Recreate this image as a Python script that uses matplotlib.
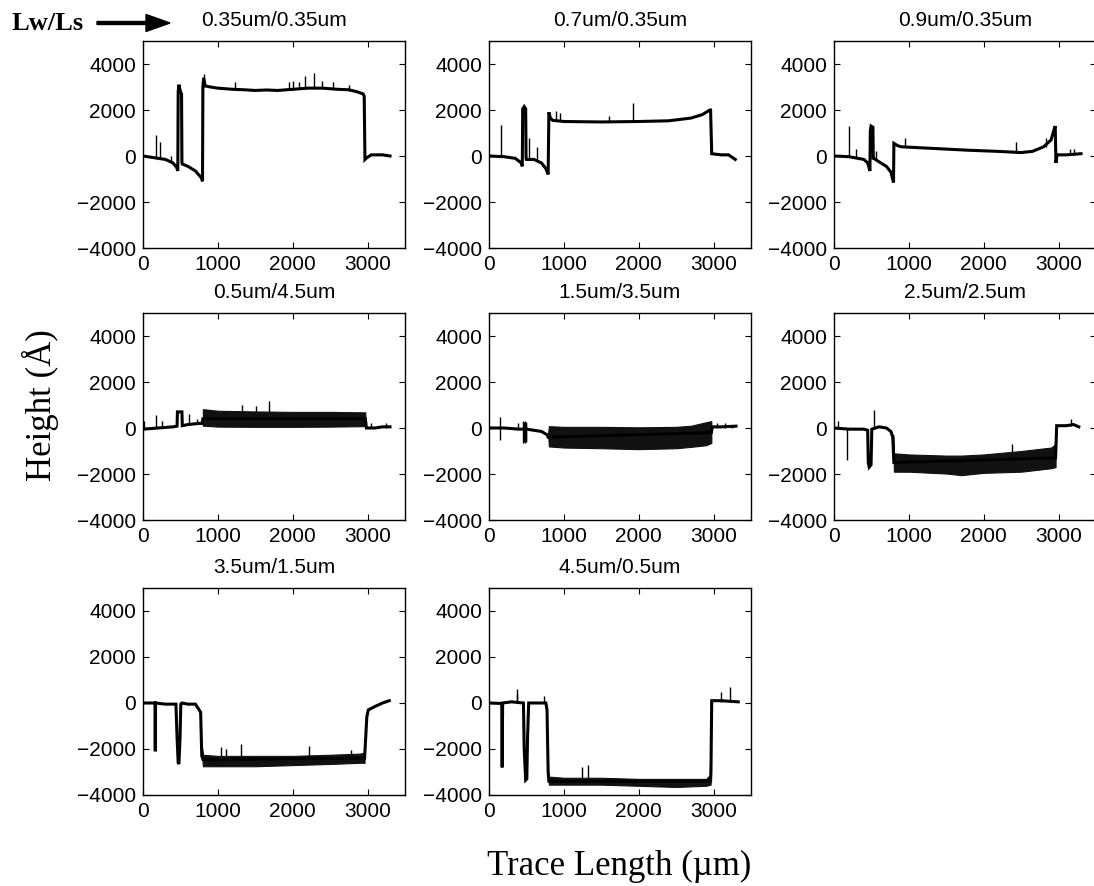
import matplotlib
matplotlib.use("Agg")
import matplotlib.pyplot as plt

# ---------------- data ----------------
titles = ["0.35um/0.35um", "0.7um/0.35um", "0.9um/0.35um",
          "0.5um/4.5um", "1.5um/3.5um", "2.5um/2.5um",
          "3.5um/1.5um", "4.5um/0.5um"]
x_ticks = [0, 1000, 2000, 3000]
y_ticks = [-4000, -2000, 0, 2000, 4000]

# panel 1 : 0.35/0.35
p1_x = [0, 100, 200, 300, 400, 450, 465, 470, 480, 500, 515, 520, 525, 600, 700, 780, 795,
        800, 810, 830, 900, 1000, 1200, 1350, 1500, 1650, 1800, 2000, 2200, 2400, 2600, 2750,
        2850, 2940, 2955, 2965, 2980, 3050, 3200, 3300]
p1_y = [0, -50, -100, -150, -300, -500, -650, 2800, 3100, 2800, 2700, -300, -350, -450, -650, -950, -1100,
        3000, 3400, 3050, 3000, 2950, 2900, 2880, 2850, 2870, 2850, 2900, 2950, 2950, 2900, 2880,
        2800, 2700, 2600, -150, -100, 50, 50, 0]
p1_sx = [180, 230, 370, 810, 1230, 1950, 2000, 2080, 2170, 2280, 2390, 2535, 2750]
p1_slo = [-80, -100, -200, 3000, 2880, 2850, 2850, 2900, 2920, 2950, 2950, 2930, 2820]
p1_shi = [900, 600, 0, 3550, 3200, 3200, 3250, 3200, 3500, 3600, 3250, 3200, 3100]
p1_bx, p1_blo, p1_bhi = [], [], []

# panel 2 : 0.7/0.35
p2_x = [0, 200, 350, 430, 445, 450, 470, 490, 495, 500, 600, 700, 760, 790, 800, 820, 850,
        1000, 1500, 2000, 2400, 2700, 2850, 2950, 2960, 2975, 3100, 3200, 3290]
p2_y = [0, -30, -100, -300, -450, 2050, 2150, 2050, -100, -150, -150, -300, -550, -800, 1900, 1650, 1550,
        1500, 1480, 1500, 1530, 1650, 1800, 2000, 2000, 100, 50, 50, -150]
p2_sx = [165, 530, 635, 900, 950, 1600, 1920]
p2_slo = [0, -150, -200, 1520, 1520, 1500, 1500]
p2_shi = [1350, 800, 380, 1950, 1850, 1750, 2300]
p2_bx, p2_blo, p2_bhi = [], [], []

# panel 3 : 0.9/0.35
p3_x = [0, 200, 400, 450, 480, 485, 495, 520, 525, 530, 600, 700, 760, 795, 800, 850, 900,
        1200, 1500, 1800, 2200, 2500, 2650, 2800, 2900, 2940, 2955, 2965, 2980, 3100, 3300]
p3_y = [0, -30, -150, -300, -650, 1100, 1300, 1250, -150, -100, -250, -450, -700, -1150, 550, 450, 400,
        350, 300, 250, 200, 150, 200, 400, 700, 1150, 1300, -300, 50, 50, 100]
p3_sx = [196, 300, 567, 946, 2430, 2830, 3155, 3200]
p3_slo = [-50, -80, -150, 400, 150, 400, 50, 50]
p3_shi = [1300, 300, 200, 800, 600, 800, 300, 300]
p3_bx, p3_blo, p3_bhi = [], [], []

# panel 4 : 0.5/4.5
p4_x = [0, 200, 400, 455, 460, 520, 525, 600, 750, 790, 800, 2970, 2985, 3100, 3200, 3300]
p4_y = [-50, 0, 50, 80, 700, 700, 100, 150, 200, 200, 400, 400, 0, 0, 50, 50]
p4_sx = [20, 170, 260, 616, 728, 1320, 1510, 1678, 3050, 3250]
p4_slo = [-50, 0, 0, 150, 200, 700, 700, 700, 0, 0]
p4_shi = [300, 580, 300, 600, 400, 1000, 950, 1160, 200, 200]
p4_bx = [800, 1000, 1500, 2000, 2500, 2970]
p4_blo = [100, 60, 50, 50, 60, 80]
p4_bhi = [820, 750, 720, 700, 700, 680]

# panel 5 : 1.5/3.5
p5_x = [0, 200, 400, 455, 505, 600, 700, 780, 790, 2970, 2985, 3100, 3300]
p5_y = [0, 0, -50, -50, -50, -100, -150, -300, -400, -200, 50, 50, 80]
p5_sx = [147, 391, 460, 470, 480, 490, 500, 3050, 3150, 3250]
p5_slo = [-500, 0, -650, -600, -670, -600, -550, 0, 0, 0]
p5_shi = [500, 200, 300, 250, 320, 250, 200, 200, 200, 150]
p5_bx = [790, 800, 1000, 1500, 2000, 2500, 2700, 2900, 2970]
p5_blo = [-300, -800, -850, -880, -920, -880, -820, -750, -650]
p5_bhi = [-200, 80, 50, 50, 30, 50, 100, 250, 300]

# panel 6 : 2.5/2.5
p6_x = [0, 200, 400, 450, 458, 470, 495, 505, 600, 700, 760, 785, 800, 2960, 2975, 3100, 3200, 3270]
p6_y = [0, -50, -50, -100, -1500, -1700, -1600, -50, 50, 0, -150, -400, -1500, -1300, 100, 100, 150, 50]
p6_sx = [49, 177, 530, 2372, 2950, 3160]
p6_slo = [0, -1400, -50, -1100, -800, 100]
p6_shi = [300, -50, 800, -700, -600, 400]
p6_bx = [790, 800, 1000, 1500, 1700, 2000, 2500, 2900, 2960]
p6_blo = [-400, -1900, -1900, -1980, -2050, -1950, -1900, -1750, -1700]
p6_bhi = [-300, -1100, -1150, -1200, -1200, -1150, -1000, -850, -700]

# panel 7 : 3.5/1.5
p7_x = [0, 160, 164, 168, 300, 440, 455, 470, 480, 495, 505, 520, 600, 700, 770, 785, 800,
        2960, 2975, 2990, 3010, 3100, 3200, 3290]
p7_y = [0, 0, -2100, 0, -50, -50, -1500, -2600, -2650, -1500, -50, 0, -50, -50, -400, -2300, -2450,
        -2400, -1500, -600, -300, -150, 0, 100]
p7_sx = [1044, 1110, 1311, 2222, 2778]
p7_slo = [-2300, -2300, -2300, -2300, -2250]
p7_shi = [-1900, -2000, -1800, -1850, -2050]
p7_bx = [790, 800, 1000, 1500, 2000, 2500, 2900, 2960]
p7_blo = [-2300, -2750, -2750, -2750, -2700, -2650, -2600, -2600]
p7_bhi = [-2000, -2250, -2300, -2300, -2300, -2250, -2200, -2150]

# panel 8 : 4.5/0.5
p8_x = [0, 170, 176, 182, 300, 460, 470, 490, 505, 515, 530, 650, 760, 775, 790, 800,
        2960, 2965, 2975, 3100, 3330]
p8_y = [0, -20, -2800, 0, 50, 0, -2000, -3350, -3300, -1500, 0, 0, 0, -300, -3000, -3400,
        -3400, -3000, 100, 100, 50]
p8_sx = [370, 380, 730, 1248, 1329, 2955, 3095, 3220]
p8_slo = [0, 0, 0, -3250, -3250, -3300, 50, 50]
p8_shi = [600, 400, 300, -2800, -2700, -2700, 500, 700]
p8_bx = [790, 800, 1000, 1500, 2000, 2500, 2900, 2960]
p8_blo = [-3200, -3550, -3550, -3550, -3600, -3650, -3600, -3550]
p8_bhi = [-3000, -3200, -3250, -3250, -3300, -3300, -3300, -3100]

panels = [
    (p1_x, p1_y, p1_sx, p1_slo, p1_shi, p1_bx, p1_blo, p1_bhi),
    (p2_x, p2_y, p2_sx, p2_slo, p2_shi, p2_bx, p2_blo, p2_bhi),
    (p3_x, p3_y, p3_sx, p3_slo, p3_shi, p3_bx, p3_blo, p3_bhi),
    (p4_x, p4_y, p4_sx, p4_slo, p4_shi, p4_bx, p4_blo, p4_bhi),
    (p5_x, p5_y, p5_sx, p5_slo, p5_shi, p5_bx, p5_blo, p5_bhi),
    (p6_x, p6_y, p6_sx, p6_slo, p6_shi, p6_bx, p6_blo, p6_bhi),
    (p7_x, p7_y, p7_sx, p7_slo, p7_shi, p7_bx, p7_blo, p7_bhi),
    (p8_x, p8_y, p8_sx, p8_slo, p8_shi, p8_bx, p8_blo, p8_bhi),
]

# ---------------- layout ----------------
W, H = 1094, 886
fig = plt.figure(figsize=(W / 100, H / 100), dpi=100)
col_left = [143, 489, 834]
row_top = [41, 313, 588]
ax_w, ax_h = 262, 207

sans = ["Liberation Sans", "DejaVu Sans"]
serif = ["Liberation Serif", "DejaVu Serif"]

for i, (px, py, sx, slo, shi, bx, blo, bhi) in enumerate(panels):
    r, c = divmod(i, 3)
    ax = fig.add_axes([col_left[c] / W, 1 - (row_top[r] + ax_h) / H, ax_w / W, ax_h / H])
    if bx:
        ax.fill_between(bx, blo, bhi, color="#111111", lw=0.8, ec="#111111")
    ax.plot(px, py, color="black", lw=2.2, solid_joinstyle="miter")
    ax.vlines(sx, slo, shi, color="black", lw=1.0)
    ax.set_xlim(0, 3500)
    ax.set_ylim(-4000, 5000)
    ax.set_xticks(x_ticks)
    ax.set_yticks(y_ticks)
    ax.set_xticklabels([str(v) for v in x_ticks], fontfamily=sans)
    ax.set_yticklabels(["\u2212" + str(-v) if v < 0 else str(v) for v in y_ticks], fontfamily=sans)
    ax.tick_params(direction="in", top=True, right=True, length=4, width=0.8,
                   labelsize=15, pad=5)
    for s in ax.spines.values():
        s.set_linewidth(1.0)
    ax.set_title(titles[i], fontsize=15, family=sans, pad=11)

fig.text(40 / W, 1 - 405 / H, "Height (\u00c5)", rotation=90, ha="center", va="center",
         fontsize=25, family=serif)
fig.text(619 / W, 1 - 866 / H, "Trace Length (\u00b5m)", ha="center", va="center",
         fontsize=25, family=serif)
fig.text(12 / W, 1 - 23 / H, "Lw/Ls", ha="left", va="center", fontsize=19,
         family=serif, fontweight="bold")
fig.patches.append(matplotlib.patches.FancyArrow(
    97 / W, 1 - 23 / H, 73 / W, 0, width=3 / H, head_width=17 / H, head_length=24 / W,
    length_includes_head=True, color="black", transform=fig.transFigure, figure=fig))

fig.savefig("out.png", dpi=100)
